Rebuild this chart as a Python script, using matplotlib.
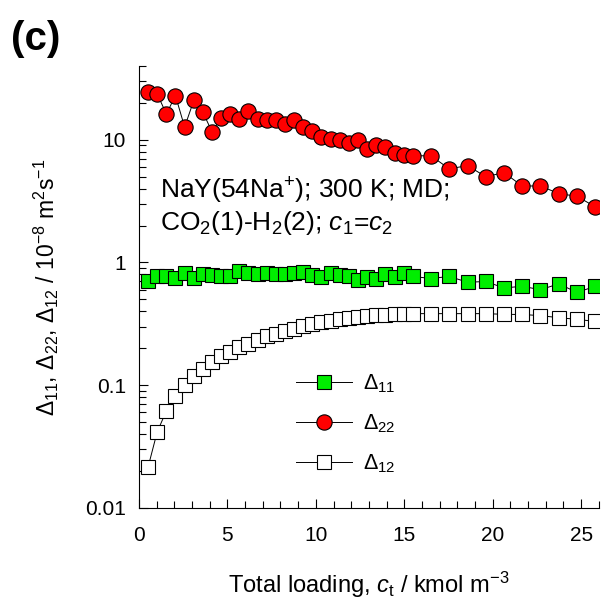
import matplotlib
matplotlib.use("Agg")
import matplotlib.pyplot as plt
from matplotlib.ticker import LogLocator, MultipleLocator, NullFormatter, FixedFormatter, FixedLocator

plt.rcParams["font.family"] = ["Liberation Sans", "DejaVu Sans"]
plt.rcParams["mathtext.fontset"] = "custom"
plt.rcParams["mathtext.rm"] = "Liberation Sans"
plt.rcParams["mathtext.it"] = "Liberation Sans:italic"
plt.rcParams["mathtext.default"] = "regular"

# loading values (kmol m^-3)
c_t = [0.52, 1.03, 1.55, 2.06, 2.58, 3.1, 3.61, 4.13, 4.64, 5.16,
       5.68, 6.19, 6.71, 7.22, 7.74, 8.26, 8.77, 9.29, 9.8, 10.32,
       10.84, 11.35, 11.87, 12.38, 12.9, 13.42, 13.93, 14.45, 14.96, 15.48,
       16.51, 17.54, 18.58, 19.61, 20.64, 21.67, 22.7, 23.74, 24.77, 25.8]

delta_11 = [0.70, 0.77, 0.77, 0.75, 0.82, 0.75, 0.81, 0.79, 0.77, 0.77,
            0.85, 0.82, 0.80, 0.82, 0.81, 0.81, 0.82, 0.83, 0.79, 0.76,
            0.82, 0.79, 0.77, 0.72, 0.76, 0.74, 0.80, 0.76, 0.82, 0.77,
            0.74, 0.77, 0.69, 0.70, 0.62, 0.64, 0.60, 0.67, 0.57, 0.64]

delta_22 = [24.7, 23.6, 16.2, 22.9, 12.7, 20.9, 16.8, 11.6, 15.0, 16.3,
            14.7, 17.3, 14.7, 14.5, 14.5, 13.5, 14.5, 12.7, 11.7, 10.6,
            10.2, 10.0, 9.4, 9.9, 8.45, 9.1, 8.8, 7.8, 7.5, 7.4,
            7.4, 5.8, 6.15, 5.0, 5.4, 4.2, 4.2, 3.64, 3.46, 2.84]

delta_12 = [0.0217, 0.0417, 0.0618, 0.0814, 0.100, 0.118, 0.135, 0.155, 0.172, 0.187,
            0.205, 0.218, 0.235, 0.250, 0.263, 0.276, 0.289, 0.302, 0.313, 0.325,
            0.333, 0.344, 0.355, 0.359, 0.366, 0.371, 0.376, 0.378, 0.383, 0.383,
            0.383, 0.383, 0.383, 0.383, 0.378, 0.377, 0.369, 0.355, 0.344, 0.331]

fig = plt.figure(figsize=(6.03, 6.04), dpi=100)
ax = fig.add_axes([0.2305, 0.159, 0.7625, 0.732])

ax.plot(c_t, delta_11, "-", color="black", lw=0.7, marker="s", ms=9.5,
        mfc="#00ee00", mec="black", mew=0.8, label=r"$\Delta_{11}$", zorder=3)
ax.plot(c_t, delta_22, "-", color="black", lw=0.7, marker="o", ms=11,
        mfc="#ff0000", mec="black", mew=0.8, label=r"$\Delta_{22}$", zorder=3)
ax.plot(c_t, delta_12, "-", color="black", lw=0.7, marker="s", ms=9.5,
        mfc="white", mec="black", mew=0.8, label=r"$\Delta_{12}$", zorder=3)

ax.set_yscale("log")
ax.set_ylim(0.01, 40)
ax.set_xlim(0, 26)

ax.spines["top"].set_visible(False)
ax.spines["right"].set_visible(False)
ax.xaxis.set_major_locator(MultipleLocator(5))
ax.xaxis.set_minor_locator(MultipleLocator(1))
ax.yaxis.set_major_locator(FixedLocator([0.01, 0.1, 1, 10]))
ax.yaxis.set_major_formatter(FixedFormatter(["0.01", "0.1", "1", "10"]))
ax.yaxis.set_minor_locator(LogLocator(base=10, subs=range(2, 10)))
ax.yaxis.set_minor_formatter(NullFormatter())
ax.tick_params(which="both", direction="in", labelsize=15, width=0.8)
ax.tick_params(which="major", length=6.5)
ax.tick_params(which="minor", length=5)
ax.tick_params(axis="y", which="major", pad=9.5)
ax.tick_params(axis="x", which="major", pad=13)

ax.set_xlabel(r"Total loading, $\it{c}_{\rm t}$ / kmol m$^{-3}$", fontsize=17, labelpad=18)
ax.set_ylabel(r"$\Delta_{11}$, $\Delta_{22}$, $\Delta_{12}$ / 10$^{-8}$ m$^{2}$s$^{-1}$",
              fontsize=16.5, labelpad=17)

ax.text(0.046, 0.699, r"NaY(54Na$^{+}$); 300 K; MD;", transform=ax.transAxes,
        fontsize=19)
ax.text(0.046, 0.629, r"CO$_2$(1)-H$_2$(2); $\it{c}_1$=$\it{c}_2$", transform=ax.transAxes,
        fontsize=19)

ax.legend(loc="upper left", bbox_to_anchor=(0.30, 0.351), frameon=False,
          fontsize=15.5, handlelength=2.6, labelspacing=0.82, handletextpad=0.5)

fig.text(0.018, 0.917, "(c)", fontsize=29, fontweight="bold")

fig.savefig("out.png", dpi=100)
